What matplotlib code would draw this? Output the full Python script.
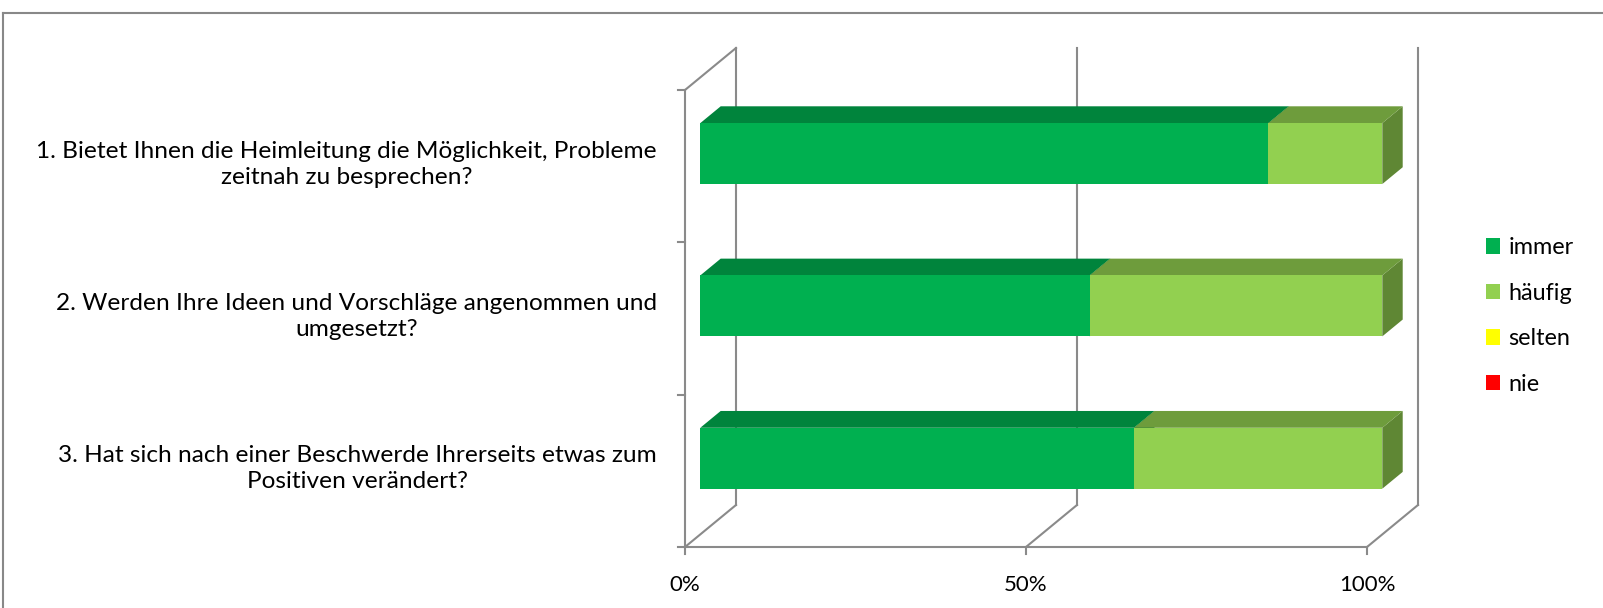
import matplotlib
matplotlib.use('Agg')
import matplotlib.pyplot as plt
from matplotlib.patches import Polygon, Patch
from matplotlib.lines import Line2D
from matplotlib.transforms import IdentityTransform

categories = [
    "1. Bietet Ihnen die Heimleitung die Möglichkeit, Probleme\nzeitnah zu besprechen?",
    "2. Werden Ihre Ideen und Vorschläge angenommen und\numgesetzt?",
    "3. Hat sich nach einer Beschwerde Ihrerseits etwas zum\nPositiven verändert?",
]
series = ["immer", "häufig", "selten", "nie"]
immer = [83.3, 57.1, 63.6]
haeufig = [16.7, 42.9, 36.4]
selten = [0, 0, 0]
nie = [0, 0, 0]
xticks = [0, 50, 100]
xticklabels = ["0%", "50%", "100%"]
colors = ["#00B050", "#92D050", "#FFFF00", "#FF0000"]

plt.rcParams['font.family'] = ['Lato', 'DejaVu Sans']
FS_CAT = 17.6
FS_LEG = 16.8
FS_TICK = 16

W, H = 1603, 608
fig = plt.figure(figsize=(W / 100, H / 100), dpi=100)
x0p, x1p, ytop, ybot = 685, 1367, 90, 547
ax = fig.add_axes([x0p / W, 1 - ybot / H, (x1p - x0p) / W, (ybot - ytop) / H])
ax.set_xlim(0, 100)
ax.set_ylim(3, 0)
ax.axis('off')
DX, DY = 51, 42


def P(x, y, d):
    px, py = ax.transData.transform((x, y))
    return (px + DX * d, py + DY * d)


gc = '#8a8a8a'
lw = 1.5


def line(pts):
    ax.add_line(Line2D([p[0] for p in pts], [p[1] for p in pts],
                       transform=IdentityTransform(), color=gc, lw=lw,
                       clip_on=False, zorder=1))


for xt in xticks:
    line([P(xt, 0, 1), P(xt, 3, 1)])
    line([P(xt, 3, 0), P(xt, 3, 1)])
    b = P(xt, 3, 0)
    line([b, (b[0], b[1] - 7)])
line([P(0, 3, 0), P(100, 3, 0)])
line([P(0, 0, 0), P(0, 3, 0)])
line([P(0, 0, 0), P(0, 0, 1)])
for yt in range(4):
    a = P(0, yt, 0)
    line([a, (a[0] - 7, a[1])])


def shade(c, f):
    c = matplotlib.colors.to_rgb(c)
    return tuple(v * f for v in c)


vals = [immer, haeufig, selten, nie]
z = 5
for i in range(len(categories)):
    left = 0
    yt, yb = i + 0.5 - 0.2, i + 0.5 + 0.2
    for s, v in enumerate(vals):
        if v[i] <= 0:
            continue
        r = left + v[i]
        side = [P(r, yt, 0.3), P(r, yt, 0.7), P(r, yb, 0.7), P(r, yb, 0.3)]
        top = [P(left, yt, 0.3), P(r, yt, 0.3), P(r, yt, 0.7), P(left, yt, 0.7)]
        front = [P(left, yt, 0.3), P(r, yt, 0.3), P(r, yb, 0.3), P(left, yb, 0.3)]
        for pts, col in ((side, shade(colors[s], 0.65)), (top, shade(colors[s], 0.75)), (front, colors[s])):
            ax.add_patch(Polygon(pts, closed=True, transform=IdentityTransform(),
                                 facecolor=col, edgecolor='none', zorder=z, clip_on=False))
            z += 1
        left = r

for i, cat in enumerate(categories):
    ax.annotate(cat, xy=(0, i + 0.5), xytext=(-28, 2), textcoords='offset pixels',
                ha='right', va='center', multialignment='center', fontsize=FS_CAT,
                linespacing=1.3)

for xt, lab in zip(xticks, xticklabels):
    ax.annotate(lab, xy=(xt, 3), xytext=(0, -38), textcoords='offset pixels',
                ha='center', va='center', fontsize=FS_TICK)

handles = [Patch(facecolor=c, edgecolor='none') for c in colors]
fig.legend(handles, series, loc='center left', bbox_to_anchor=(1486 / W, 1 - 316 / H),
           frameon=False, handlelength=0.62, handleheight=0.62, handletextpad=0.35,
           labelspacing=1.05, borderaxespad=0, borderpad=0, fontsize=FS_LEG)

fc = '#888888'
fig.add_artist(Line2D([3 / W, 1], [1 - 13 / H, 1 - 13 / H], transform=fig.transFigure, color=fc, lw=1.5))
fig.add_artist(Line2D([3 / W, 3 / W], [0, 1 - 13 / H], transform=fig.transFigure, color=fc, lw=1.5))

fig.savefig('out.png', dpi=100)
